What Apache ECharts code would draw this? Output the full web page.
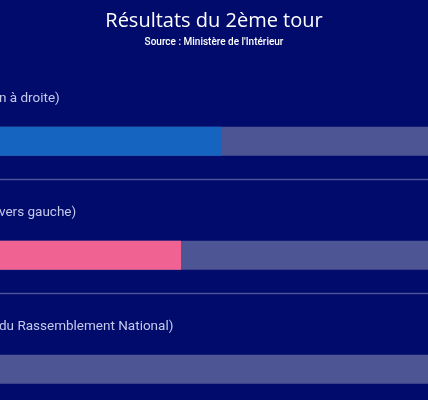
<!DOCTYPE html>
<html><head><meta charset="utf-8">
<script src="https://cdn.jsdelivr.net/npm/echarts@6/dist/echarts.min.js"></script>
<style>html,body{margin:0;padding:0;background:#000b6b;}#c{width:428px;height:400px;}</style>
</head><body><div id="c"></div>
<script>
const categories = ["n à droite)", "vers gauche)", "du Rassemblement National)"];
const values = [44, 40, 16];
const barColors = ["#1565c0", "#f06292", "#7a3b8f"];
const maxValue = 100;

const chart = echarts.init(document.getElementById('c'), null, {renderer: 'canvas'});
chart.setOption({
  backgroundColor: '#000b6b',
  animation: false,
  title: {
    text: 'Résultats du 2ème tour',
    subtext: "Source : Ministère de l'Intérieur",
    left: 'center', top: 6, itemGap: 6,
    textStyle: {color: '#ffffff', fontSize: 20, fontWeight: 500, fontFamily: 'Open Sans'},
    subtextStyle: {color: '#ffffff', fontSize: 10, fontWeight: 500, fontFamily: 'Roboto'}
  },
  grid: [
    {left: -229, width: 1025, top: 84.2, height: 342, outerBoundsMode: 'none', containLabel: false},
    {left: 0, width: 428, top: 65.3, height: 342, outerBoundsMode: 'none', containLabel: false}
  ],
  xAxis: [
    {gridIndex: 0, type: 'value', min: 0, max: maxValue, show: false},
    {gridIndex: 1, type: 'value', min: 0, max: 1, show: false}
  ],
  yAxis: [
    {gridIndex: 0, type: 'category', data: categories, inverse: true, show: false},
    {gridIndex: 1, type: 'category', data: categories, inverse: true,
     axisLine: {show: false}, axisTick: {show: false}, axisLabel: {show: false},
     splitLine: {show: true, showMinLine: false, lineStyle: {color: '#4a5196', width: 1.3}}}
  ],
  series: [{
    type: 'bar', xAxisIndex: 0, yAxisIndex: 0,
    data: values.map((v, i) => ({value: v, itemStyle: {color: barColors[i]}})),
    barWidth: 29,
    showBackground: true,
    backgroundStyle: {color: '#4e5594', opacity: 1},
    label: {
      show: true,
      position: [228, -28],
      align: 'left', verticalAlign: 'middle',
      formatter: p => categories[p.dataIndex],
      color: '#c5c9ec', fontSize: 13.5, fontFamily: 'Roboto'
    }
  }]
});
</script></body></html>
